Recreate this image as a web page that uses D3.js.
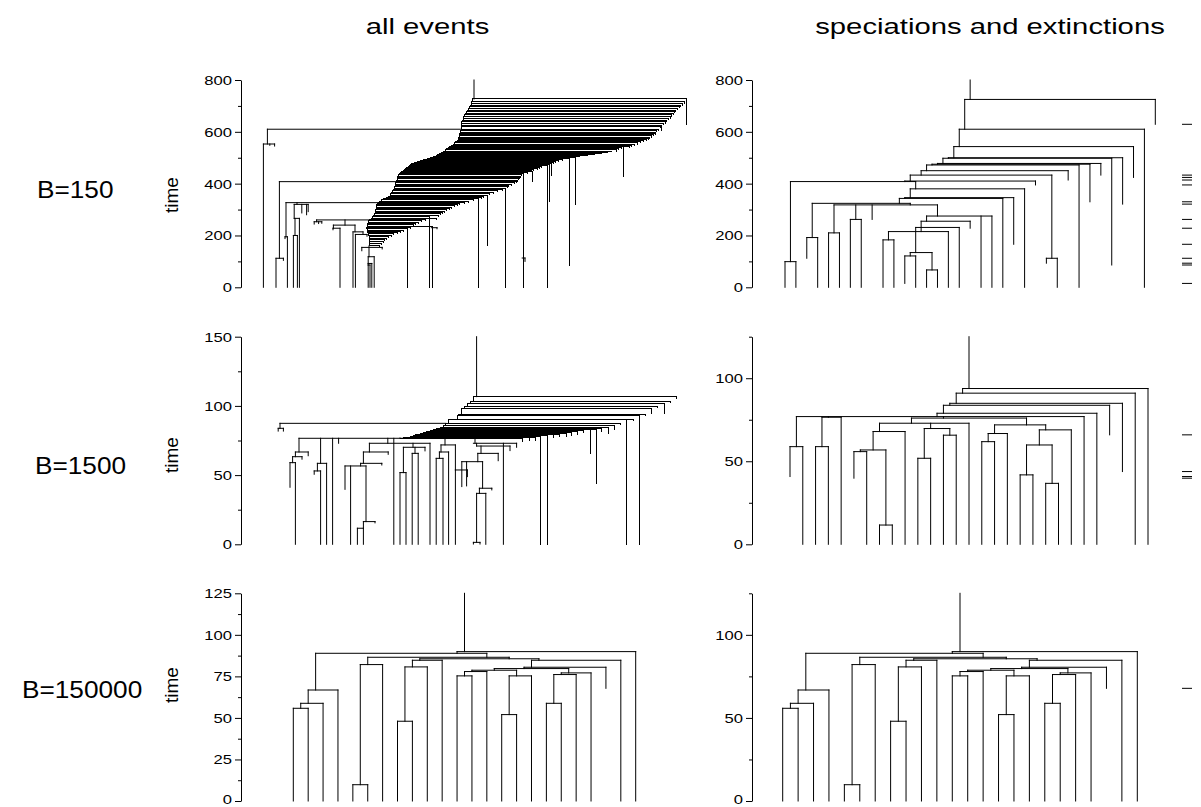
<!DOCTYPE html>
<html>
<head>
<meta charset="utf-8">
<script src="https://cdn.jsdelivr.net/npm/d3@7"></script>
<style>
  body { margin: 0; background: #fff; }
  svg { display: block; }
  text { font-family: "Liberation Sans", Arial, Helvetica, sans-serif; fill: #000; }
</style>
</head>
<body>
<svg id="chart" width="1201" height="807"></svg>
<script>
// ---------------------------------------------------------------------------
// Labels
const columnTitles = ["all events", "speciations and extinctions"];
const rowLabels = ["B=150", "B=1500", "B=150000"];
const axisTitle = "time";

// Axis ticks per panel (major ticks carry labels)
const ticksTopMajor = [0, 200, 400, 600, 800];
const ticksTopMinor = [100, 300, 500, 700];
const ticksMidLeftMajor = [0, 50, 100, 150];
const ticksMidLeftMinor = [25, 75, 125];
const ticksRightMajor = [0, 50, 100];
const ticksRightMinor = [25, 75, 125];
const ticksBottomLeftMajor = [0, 25, 50, 75, 100, 125];
const ticksBottomLeftMinor = [12.5, 37.5, 62.5, 87.5, 112.5];

// ---------------------------------------------------------------------------
// Trees. x = lineage position, t = time.
// bars:  [t, xLeft, xRight]   horizontal joins at a branching time
// stems: [x, tLow, tHigh]     vertical lineage segments
// stair: [t, xTrunk, xTip, tTipEnd] successive buds off one long-lived lineage

// B=150, all events
const b150AllStair = [
  [726.7, 57.9, 111.25, 629], [716, 57.7, 110.8, 711], [708, 57.5, 110.3, 703],
  [703, 57.3, 109.9, 699], [697, 57.0, 109.5, 692], [691, 56.8, 109.1, 686],
  [684, 56.6, 108.7, 679], [678, 56.4, 108.4, 673], [671, 56.1, 108.0, 666],
  [665, 55.9, 107.7, 660], [658, 55.7, 107.3, 653], [652, 55.6, 106.9, 647],
  [645, 55.4, 106.4, 640], [639, 55.2, 106.0, 634], [632, 55.1, 105.6, 627],
  [626, 55.0, 105.2, 607], [620, 55.0, 104.8, 615], [610, 55.0, 104.4, 605],
  [604, 54.9, 103.9, 600], [599, 54.8, 103.6, 595], [594, 54.7, 103.5, 590],
  [589, 54.6, 103.1, 585], [584, 54.5, 102.6, 580], [579, 54.4, 102.2, 575],
  [574, 54.3, 101.9, 570], [569, 54.3, 101.4, 566], [565, 54.0, 100.6, 561],
  [561, 53.7, 99.9, 557], [557, 53.3, 99.0, 553], [553, 53.0, 98.3, 549],
  [549, 52.7, 97.6, 545], [545, 52.4, 97.0, 541], [542, 52.1, 95.6, 427],
  [538, 51.8, 95.2, 535], [534, 51.4, 94.4, 531], [530, 51.0, 93.9, 526],
  [526, 50.6, 92.6, 523], [522, 50.1, 91.5, 519], [518, 49.6, 90.2, 515],
  [514, 49.2, 88.4, 511], [510, 48.8, 86.7, 507], [506, 48.2, 84.6, 503],
  [501, 47.4, 83.5, 320], [497, 46.6, 82.1, 86], [493, 45.6, 80.4, 490],
  [489, 44.75, 79.4, 486], [485, 44.0, 78.6, 482], [481, 43.4, 78.0, 478],
  [477, 42.7, 77.5, 433], [474, 42.4, 77.0, 331], [471, 42.1, 76.6, 0],
  [467, 41.8, 75.2, 464], [463, 41.4, 74.6, 460], [459, 41.1, 74.0, 456],
  [455, 40.8, 73.2, 451], [451, 40.5, 72.5, 447], [446, 40.2, 72.9, 410],
  [442, 39.9, 71.6, 438], [438, 39.6, 70.6, 0], [434, 39.3, 70.2, 430],
  [429, 39.2, 69.9, 425], [424, 39.1, 69.6, 420], [419, 39.0, 69.3, 415],
  [414, 38.9, 69.1, 410], [408, 38.8, 68.9, 404], [403, 38.7, 68.3, 399],
  [398, 38.6, 67.5, 394], [393, 38.5, 66.9, 389], [388, 38.4, 66.5, 384],
  [382, 38.3, 66.0, 0], [377, 38.2, 65.3, 373], [372, 37.9, 64.2, 368],
  [367, 37.6, 63.0, 363], [362, 37.4, 62.2, 358], [356, 37.3, 61.7, 163],
  [351, 36.9, 60.6, 347], [347, 36.4, 60.0, 343], [343, 35.6, 59.3, 0],
  [338, 35.1, 58.0, 334], [333, 34.6, 56.9, 329], [329, 34.3, 55.8, 325],
  [324, 34.0, 54.7, 320], [319, 33.95, 54.0, 315], [314, 33.9, 53.3, 310],
  [309, 33.85, 52.6, 305], [304, 33.8, 52.0, 300], [299, 33.7, 51.4, 295],
  [294, 33.6, 50.9, 290], [289, 33.5, 50.4, 285], [284, 33.4, 49.9, 280],
  [279, 33.2, 49.3, 275], [273, 32.9, 47.1, 0], [267, 32.6, 48.9, 263],
  [262, 32.2, 46.0, 258], [257, 31.9, 45.2, 253], [252, 31.8, 44.4, 248],
  [247, 31.7, 43.7, 243], [242, 31.6, 43.0, 238], [236, 31.5, 47.9, 0],
  [231, 31.4, 42.3, 227], [226, 31.5, 41.7, 0], [221, 31.6, 40.5, 217],
  [216, 31.7, 39.8, 212], [211, 31.8, 39.0, 207], [206, 31.9, 38.2, 202],
  [201, 32.0, 37.5, 197], [195, 32.0, 36.8, 191], [189, 32.0, 36.3, 185],
  [183, 32.0, 35.9, 179], [176, 32.0, 35.5, 172], [168, 32.0, 35.1, 164],
  [160, 32.0, 34.6, 156]
];
const b150AllBars = [
  [610, 6.6, 55.0], [553, 5.6, 8.4], [407.7, 9.6, 38.8], [112, 8.75, 10.6],
  [326.7, 11.25, 34.3], [320, 13.3, 16.8], [266, 13.3, 14.6], [200, 13.1, 14.1],
  [195, 11.0, 11.6], [260, 18.9, 33.1], [253, 18.3, 20.2], [240, 23.1, 28.5],
  [228, 23.0, 24.75], [214, 28.0, 30.5], [204, 28.6, 31.5], [154, 30.2, 35.3],
  [118, 31.8, 33.3], [92, 31.8, 32.7], [86, 31.8, 32.25], [113, 70.3, 71.0],
  [230, 47.6, 49.0]
];
const b150AllStems = [
  [58.25, 726.7, 800], [6.6, 553, 610], [5.6, 0, 553], [8.4, 545, 553],
  [7.2, 548, 553], [9.6, 112, 407.7], [8.75, 0, 112], [10.6, 104, 112],
  [11.25, 195, 326.7], [11.0, 188, 195], [11.6, 0, 195], [14.0, 320, 326.7],
  [15.2, 287, 320], [16.4, 280, 320], [16.8, 292, 320], [13.3, 266, 320],
  [14.6, 0, 266], [13.5, 200, 266], [13.1, 0, 200], [14.1, 0, 200],
  [18.9, 253, 260], [18.3, 244, 253], [20.2, 247, 253], [19.4, 246, 253],
  [26.0, 240, 260], [23.1, 228, 240], [23.0, 222, 228], [24.75, 0, 228],
  [28.5, 214, 240], [28.0, 0, 214], [30.5, 204, 214], [28.6, 0, 204],
  [31.5, 197, 204], [32.0, 118, 160], [30.2, 141, 154], [35.3, 148, 154],
  [33.3, 0, 118], [31.8, 92, 118], [32.7, 0, 92], [31.8, 86, 92],
  [31.8, 0, 86], [32.25, 0, 86], [71.0, 100, 113], [49.0, 226, 230]
];

// B=150, speciations and extinctions
const b150SpecBars = [
  [725, 16.5, 34], [610, 16, 33], [543, 15.5, 32], [500, 15, 31], [498, 14.5, 30],
  [478, 14, 29], [475, 13.5, 28], [472, 13, 27], [450, 12.5, 26], [433, 11.5, 24.5],
  [410, 11, 23], [408, 0.5, 12], [380, 11.5, 22], [346, 11, 21], [343, 10.5, 20],
  [324, 2.5, 11.5], [318, 4.5, 14], [275, 13, 19], [262, 6, 7], [255, 12.5, 17],
  [231, 12, 16], [215, 9.5, 15], [210, 4, 5], [192, 2, 3], [183, 9, 10],
  [134, 11.5, 13.5], [121, 11, 12], [112, 24, 25], [99, 0, 1], [67, 13, 14]
];
const b150SpecStems = [
  [17, 725, 800], [34, 629, 725], [16.5, 610, 725], [33, 0, 610], [16, 543, 610],
  [32, 424, 543], [15.5, 500, 543], [31, 321, 500], [15, 498, 500], [30, 86, 498],
  [14.5, 478, 498], [29, 433, 478], [14, 475, 478], [28, 330, 475], [13.5, 472, 475],
  [27, 0, 472], [13, 450, 472], [26, 414, 450], [12.5, 433, 450], [24.5, 112, 433],
  [24, 93, 112], [25, 0, 112], [11.5, 410, 433], [23, 395, 410], [11, 408, 410],
  [0.5, 99, 408], [0, 0, 99], [1, 0, 99], [12, 380, 408], [22, 0, 380],
  [11.5, 346, 380], [21, 166, 346], [11, 343, 346], [20, 0, 343], [10.5, 324, 343],
  [2.5, 192, 324], [2, 112, 192], [3, 0, 192], [11.5, 318, 324], [4.5, 210, 318],
  [4, 0, 210], [5, 0, 210], [6.5, 262, 318], [6, 0, 262], [7, 0, 262],
  [8, 262, 318], [14, 275, 318], [18, 0, 275], [19, 0, 275], [13, 255, 275],
  [17, 228, 255], [12.5, 231, 255], [16, 0, 231], [12.5, 215, 231], [15, 0, 215],
  [9.5, 183, 215], [9, 0, 183], [10, 0, 183], [12, 134, 231], [11.5, 121, 134],
  [11, 15, 121], [12, 0, 121], [13.5, 67, 134], [13, 0, 67], [14, 0, 67]
];

// B=1500, all events
const b1500AllStair = [
  [106.7, 58.1, 108.75, 105.5], [103.5, 57.4, 107.25, 102.3], [101.6, 56.6, 105.75, 94.6],
  [99.7, 55.8, 104.2, 98.5], [97.8, 55.2, 102.7, 94.6], [93.9, 54.3, 101.2, 93.2],
  [93.4, 54.0, 99.5, 0], [90.3, 52.1, 98.1, 89.8], [89.9, 51.9, 96.4, 0],
  [87.4, 51.2, 94.75, 86.2], [85.5, 50.6, 93.3, 83.0], [84.5, 49.75, 91.8, 79.7],
  [83.8, 48.9, 90.1, 81.6], [83.3, 48.5, 88.75, 43.6], [82.8, 48.1, 87.25, 65.7],
  [82.1, 47.25, 85.6, 80.9], [81.4, 46.4, 84.1, 79.5], [80.7, 45.6, 82.6, 78.4],
  [79.9, 44.75, 81.25, 77.8], [79.5, 44.1, 79.6, 77.6], [79.0, 43.6, 78.1, 77.2],
  [78.3, 43.1, 76.6, 0], [77.8, 42.25, 74.9, 0], [77.3, 41.4, 73.5, 75.1],
  [77.1, 40.6, 72.1, 74.8], [76.8, 39.75, 70.4, 74.6]
];
const b1500AllBars = [
  [87.4, 9.75, 51.2], [83.8, 9.3, 10.6], [76.6, 14.5, 70.4], [66.7, 13.6, 16.8],
  [63.3, 12.9, 15.25], [59.0, 12.25, 13.6], [58.5, 19.1, 21.4], [53.0, 18.3, 19.9],
  [73.0, 32.1, 47.25], [66.7, 30.6, 36.8], [58.5, 29.9, 35.2], [56.6, 26.0, 31.25],
  [16.4, 30.6, 33.5], [11.6, 29.1, 30.6], [70.1, 40.6, 46.0], [51.8, 39.75, 41.25],
  [65.7, 42.8, 44.3], [73.0, 58.1, 68.9], [71.0, 58.9, 67.25], [65.7, 59.2, 64.3],
  [59.7, 55.2, 60.4], [40.5, 59.6, 62.7], [36.8, 58.9, 61.2], [1.4, 58.1, 59.75],
  [71.8, 50.0, 53.6], [66.7, 49.6, 51.9], [62.1, 48.8, 50.5], [53.7, 53.6, 56.6]
];
const b1500AllStems = [
  [58.9, 106.7, 150], [39.75, 76.6, 76.8], [9.75, 83.8, 87.4], [9.3, 81.8, 83.8],
  [10.6, 81.8, 83.8], [14.5, 66.7, 76.6], [16.8, 64.0, 66.7], [13.6, 63.3, 66.7],
  [15.25, 61.5, 63.3], [12.9, 59.0, 63.3], [12.25, 41.2, 59.0], [13.6, 0, 59.0],
  [19.9, 58.5, 76.6], [21.4, 0, 58.5], [19.1, 53.0, 58.5], [18.3, 50.6, 53.0],
  [19.9, 0, 53.0], [22.9, 0, 76.6], [24.4, 73.0, 76.6], [36.7, 73.0, 76.6],
  [47.25, 0, 73.0], [32.1, 66.7, 73.0], [36.8, 65.0, 66.7], [30.6, 58.5, 66.7],
  [35.2, 57.3, 58.5], [29.9, 56.6, 58.5], [26.0, 39.7, 56.6], [27.4, 0, 56.6],
  [31.25, 16.4, 56.6], [33.5, 15.5, 16.4], [30.6, 11.6, 16.4], [29.1, 0, 11.6],
  [30.6, 0, 11.6], [38.2, 0, 76.6], [43.0, 70.1, 73.0], [46.0, 67.5, 70.1],
  [40.6, 51.8, 70.1], [39.75, 0, 51.8], [41.25, 0, 51.8], [43.5, 65.7, 70.1],
  [42.8, 0, 65.7], [44.3, 0, 65.7], [58.5, 73.0, 76.6], [68.9, 70.1, 73.0],
  [65.6, 0, 73.0], [58.9, 71.0, 73.0], [67.25, 67.7, 71.0], [60.0, 65.7, 71.0],
  [64.3, 60.4, 65.7], [59.2, 59.7, 65.7], [55.2, 41.7, 59.7], [56.4, 42.2, 59.7],
  [60.4, 40.5, 59.7], [62.7, 39.3, 40.5], [59.6, 36.8, 40.5], [61.2, 0, 36.8],
  [58.9, 1.4, 36.8], [58.1, 0.2, 1.4], [59.75, 0.2, 1.4], [51.0, 71.8, 76.6],
  [50.0, 66.7, 71.8], [51.9, 0, 66.7], [49.6, 62.1, 66.7], [48.8, 0, 62.1],
  [50.5, 0, 62.1], [53.6, 53.7, 71.8], [56.6, 48.9, 53.7], [53.6, 0, 53.7]
];

// B=1500, speciations and extinctions
const b1500SpecBars = [
  [93.8, 13.5, 28], [91.0, 13, 27], [84.9, 12.5, 26], [83.7, 12, 25], [78.9, 11.5, 24],
  [76.9, 0.5, 23], [76.5, 2.5, 4], [76.0, 9.5, 18.5], [72.9, 7, 14], [71.9, 16, 20],
  [69.7, 10.5, 12.5], [68.9, 19.5, 22], [67.9, 6.5, 9], [66.7, 15.5, 17], [65.7, 12, 13],
  [61.8, 15, 16], [59.8, 18.5, 20.5], [58.8, 0, 1], [58.8, 2, 3], [56.8, 5.5, 7.5],
  [55.8, 5, 6], [51.8, 10, 11], [41.8, 18, 19], [36.7, 20, 21], [11.6, 7, 8]
];
const b1500SpecStems = [
  [14, 93.8, 125], [28, 0, 93.8], [13.5, 91.0, 93.8], [27, 0, 91.0], [13, 84.9, 91.0],
  [26, 43.8, 84.9], [12.5, 83.7, 84.9], [25, 65.9, 83.7], [12, 78.9, 83.7], [24, 0, 78.9],
  [11.5, 76.9, 78.9], [23, 0, 76.9], [0.5, 58.8, 76.9], [0, 40.8, 58.8], [1, 0, 58.8],
  [3, 76.5, 76.9], [2.5, 58.8, 76.5], [2, 0, 58.8], [3, 0, 58.8], [4, 0, 76.5],
  [12, 76.0, 76.9], [9.5, 72.9, 76.0], [14, 0, 72.9], [7, 67.9, 72.9], [9, 0, 67.9],
  [6.5, 56.8, 67.9], [5.5, 55.8, 56.8], [5, 39.8, 55.8], [6, 0, 55.8], [7.5, 11.6, 56.8],
  [7, 0, 11.6], [8, 0, 11.6], [11, 69.7, 72.9], [10.5, 51.8, 69.7], [10, 0, 51.8],
  [11, 0, 51.8], [12.5, 65.7, 69.7], [12, 0, 65.7], [13, 0, 65.7], [18.5, 71.9, 76.0],
  [16, 66.7, 71.9], [17, 0, 66.7], [15.5, 61.8, 66.7], [15, 0, 61.8], [16, 0, 61.8],
  [20, 68.9, 71.9], [22, 0, 68.9], [19.5, 59.8, 68.9], [18.5, 41.8, 59.8], [18, 0, 41.8],
  [19, 0, 41.8], [20.5, 36.7, 59.8], [20, 0, 36.7], [21, 0, 36.7]
];

// B=150000: both views show the same tree
const b150000Bars = [
  [89.9, 11, 23], [88.9, 1.5, 13], [86.5, 5, 14.5], [85.6, 8.5, 16.5], [84.7, 8, 10],
  [84.7, 16, 22], [82.1, 4.5, 6], [80.7, 7.5, 9], [80.5, 15.5, 21], [79.7, 13.5, 18.5],
  [78.7, 12, 15], [77.9, 11.5, 13], [77.1, 18, 20], [76.1, 17.5, 19], [75.3, 11, 12],
  [75.3, 14.5, 16], [66.8, 1, 3], [58.8, 0.5, 2], [58.8, 17, 18], [55.8, 0, 1],
  [52.0, 14, 15], [48.0, 7, 8], [9.8, 4, 5]
];
const b150000Stems = [
  [11.5, 89.9, 125], [23, 0, 89.9], [11, 88.9, 89.9], [1.5, 66.8, 88.9], [13, 86.5, 88.9],
  [3, 0, 66.8], [1, 58.8, 66.8], [2, 0, 58.8], [0.5, 55.8, 58.8], [0, 0, 55.8],
  [1, 0, 55.8], [5, 82.1, 86.5], [6, 0, 82.1], [4.5, 9.8, 82.1], [4, 0, 9.8],
  [5, 0, 9.8], [14.5, 85.6, 86.5], [8.5, 84.7, 85.6], [10, 0, 84.7], [8, 80.7, 84.7],
  [9, 0, 80.7], [7.5, 48, 80.7], [7, 0, 48], [8, 0, 48], [16.5, 84.7, 85.6],
  [22, 0, 84.7], [16, 80.5, 84.7], [21, 67.8, 80.5], [15.5, 79.7, 80.5], [13.5, 78.7, 79.7],
  [12, 77.9, 78.7], [13, 0, 77.9], [11.5, 75.3, 77.9], [11, 0, 75.3], [12, 0, 75.3],
  [15, 75.3, 78.7], [14.5, 52, 75.3], [14, 0, 52], [15, 0, 52], [16, 0, 75.3],
  [18.5, 77.1, 79.7], [20, 0, 77.1], [18, 76.1, 77.1], [19, 0, 76.1], [17.5, 58.8, 76.1],
  [17, 0, 58.8], [18, 0, 58.8]
];

// ---------------------------------------------------------------------------
// Layout
const svg = d3.select("#chart");
const rowBoxes = [
  { y0: 287.3, y1: 80,    labelX: 37, labelY: 198, timeY: 195 },
  { y0: 544.3, y1: 336.7, labelX: 35, labelY: 474, timeY: 455 },
  { y0: 801,   y1: 593.3, labelX: 22, labelY: 698, timeY: 685 }
];
const panels = [
  { row: 0, axisX: 241, xDom: [0, 112], xRange: [241, 689], tMax: 800,
    major: ticksTopMajor, minor: ticksTopMinor,
    bars: b150AllBars, stems: b150AllStems, stair: b150AllStair },
  { row: 0, axisX: 752, xDom: [0, 34], xRange: [785, 1155.3], tMax: 800,
    major: ticksTopMajor, minor: ticksTopMinor,
    bars: b150SpecBars, stems: b150SpecStems, marks: true },
  { row: 1, axisX: 241, xDom: [0, 112], xRange: [241, 689], tMax: 150,
    major: ticksMidLeftMajor, minor: ticksMidLeftMinor,
    bars: b1500AllBars, stems: b1500AllStems, stair: b1500AllStair },
  { row: 1, axisX: 752, xDom: [0, 28], xRange: [790, 1148], tMax: 125,
    major: ticksRightMajor, minor: ticksRightMinor,
    bars: b1500SpecBars, stems: b1500SpecStems, marks: true },
  { row: 2, axisX: 241, xDom: [0, 23], xRange: [293.3, 635.7], tMax: 125,
    major: ticksBottomLeftMajor, minor: ticksBottomLeftMinor,
    bars: b150000Bars, stems: b150000Stems },
  { row: 2, axisX: 752, xDom: [0, 23], xRange: [782.7, 1137.3], tMax: 125,
    major: ticksRightMajor, minor: ticksRightMinor,
    bars: b150000Bars, stems: b150000Stems, marks: true }
];

// Horizontally widened text, as in the printed figure
function wideText(parent, str, x, y, size, sx, anchor) {
  return parent.append("text")
    .attr("transform", `translate(${x},${y}) scale(${sx},1)`)
    .attr("text-anchor", anchor)
    .style("font-size", size + "px")
    .text(str);
}

// Column titles
wideText(svg, columnTitles[0], 427.5, 34, 22, 1.33, "middle");
wideText(svg, columnTitles[1], 990, 34, 22, 1.33, "middle");

// Row labels and axis titles
rowBoxes.forEach((r, i) => {
  wideText(svg, rowLabels[i], r.labelX, r.labelY, 23, 1.14, "start");
  svg.append("text")
    .attr("transform", `translate(178,${r.timeY}) rotate(-90)`)
    .attr("text-anchor", "middle")
    .style("font-size", "19px")
    .text(axisTitle);
});

// Tips that end before the present (extinctions)
function extinctionTimes(bars, stems) {
  return stems
    .filter(([u, t0]) => t0 > 0 &&
      !bars.some(([t, a, b]) => Math.abs(t - t0) < 1e-6 && u >= a - 1e-6 && u <= b + 1e-6))
    .map(d => d[1]);
}

function drawSegments(parent, segs, crisp) {
  parent.append("g")
    .attr("stroke", "#000").attr("stroke-width", 1).attr("stroke-linecap", "square")
    .attr("shape-rendering", crisp ? "crispEdges" : null)
    .selectAll("line").data(segs).join("line")
    .attr("x1", d => d[0]).attr("y1", d => d[1])
    .attr("x2", d => d[2]).attr("y2", d => d[3]);
}

const pageHeight = 807;

panels.forEach(p => {
  const r = rowBoxes[p.row];
  const y = d3.scaleLinear().domain([0, p.tMax]).range([r.y0, r.y1]);
  const x = d3.scaleLinear().domain(p.xDom).range(p.xRange);
  const g = svg.append("g");

  // axis: major ticks with labels, minor ticks without
  const ax = g.append("g").attr("transform", `translate(${p.axisX},0)`);
  ax.call(d3.axisLeft(y).tickValues(p.major).tickSize(6).tickSizeOuter(0)
    .tickFormat(d3.format("d")));
  ax.attr("font-family", null).attr("font-size", null);
  ax.select(".domain").attr("stroke", "#000");
  ax.selectAll(".tick line").attr("stroke", "#000");
  ax.selectAll(".tick text")
    .attr("x", 0)
    // keep labels that sit on the page's lower edge inside the page
    .attr("dy", d => (y(d) + 8 > pageHeight ? "0.2em" : "0.36em"))
    .attr("transform", "translate(-9,0) scale(1.33,1)")
    .style("font-size", "12.5px");
  const axm = g.append("g").attr("transform", `translate(${p.axisX},0)`);
  axm.call(d3.axisLeft(y).tickValues(p.minor).tickSize(3).tickSizeOuter(0).tickFormat(""));
  axm.select(".domain").remove();
  axm.selectAll(".tick line").attr("stroke", "#000");

  // tree segments
  const segs = [];
  p.bars.forEach(([t, a, b]) => segs.push([x(a), y(t), x(b), y(t)]));
  p.stems.forEach(([u, t0, t1]) => segs.push([x(u), y(t0), x(u), y(t1)]));
  drawSegments(g, segs, false);

  // dense budding sequence: bars, tip drops and the trunk between buds
  if (p.stair) {
    const stairSegs = [];
    p.stair.forEach(([t, uL, uR, tEnd], i) => {
      stairSegs.push([x(uL), y(t), x(uR), y(t)]);
      stairSegs.push([x(uR), y(t), x(uR), y(tEnd)]);
      if (i + 1 < p.stair.length) stairSegs.push([x(uL), y(t), x(uL), y(p.stair[i + 1][0])]);
    });
    drawSegments(g, stairSegs, true);
  }

  // extinction times, shown as dashes at the right margin
  if (p.marks) {
    g.append("g").attr("stroke", "#000").attr("stroke-width", 1)
      .selectAll("line").data(extinctionTimes(p.bars, p.stems)).join("line")
      .attr("x1", 1182).attr("x2", 1192)
      .attr("y1", d => y(d)).attr("y2", d => y(d));
  }
});
</script>
</body>
</html>
